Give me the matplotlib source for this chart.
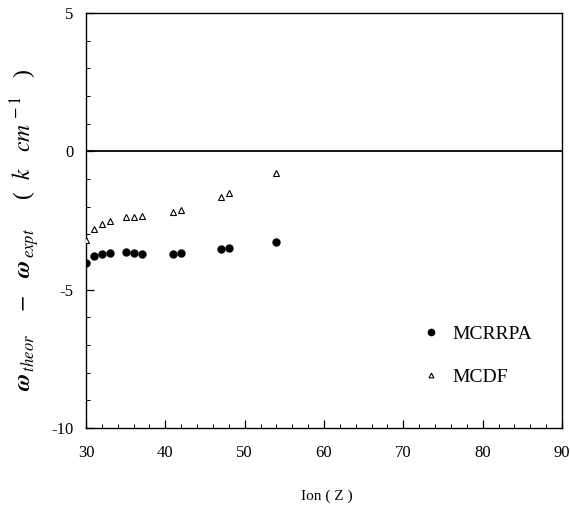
import matplotlib
matplotlib.use("Agg")
import matplotlib.pyplot as plt
from matplotlib.ticker import MultipleLocator

plt.rcParams['font.family'] = ['Liberation Serif', 'DejaVu Serif']
plt.rcParams['mathtext.fontset'] = 'stix'
plt.rcParams['axes.unicode_minus'] = False

Z = [30, 31, 32, 33, 35, 36, 37, 41, 42, 47, 48, 54]
mcrrpa = [-4.02, -3.80, -3.72, -3.67, -3.63, -3.67, -3.71, -3.71, -3.69, -3.54, -3.48, -3.27]
mcdf = [-3.19, -2.82, -2.62, -2.51, -2.38, -2.37, -2.35, -2.19, -2.12, -1.66, -1.50, -0.78]
xticks = [30, 40, 50, 60, 70, 80, 90]
yticks = [-10, -5, 0, 5]

fig = plt.figure(figsize=(5.70, 5.14), dpi=100)
ax = fig.add_axes([0.1509, 0.1673, 0.8351, 0.8074])

ax.axhline(0, color='black', lw=1.3, zorder=1)
ax.plot(Z, mcrrpa, 'o', color='black', ms=5, ls='none', label='MCRRPA', zorder=3)
ax.plot(Z, mcdf, '^', mfc='white', mec='black', mew=0.8, ms=3.8, ls='none', label='MCDF', zorder=3)

ax.set_xlim(30, 90)
ax.set_ylim(-10, 5)
ax.set_xticks(xticks)
ax.set_yticks(yticks)
ax.xaxis.set_minor_locator(MultipleLocator(2))
ax.yaxis.set_minor_locator(MultipleLocator(1))
ax.tick_params(which='both', direction='in', top=False, right=False, labelsize=12)
ax.tick_params(which='major', length=6, width=0.9)
ax.tick_params(which='minor', length=3, width=0.7)
ax.tick_params(axis='x', pad=12)
ax.tick_params(axis='y', pad=9)
for s in ax.spines.values():
    s.set_linewidth(1.0)

fig.text(0.573, 1 - 496 / 514, 'Ion ( Z )', fontsize=11, ha='center', va='center')
fig.text(25 / 570, 1 - 230 / 514,
         r'$\boldsymbol{\omega}_{\,theor}$    $-$   $\boldsymbol{\omega}_{\,expt}$     (  $k$   $cm^{\,-1}$   )',
         fontsize=17, rotation=90, ha='center', va='center')

leg = ax.legend(loc='upper left', bbox_to_anchor=(0.667, 0.29), frameon=False,
                fontsize=14, labelspacing=1.3, handletextpad=0.6, markerscale=0.9,
                handlelength=1.0)

fig.savefig('out.png', dpi=100)
